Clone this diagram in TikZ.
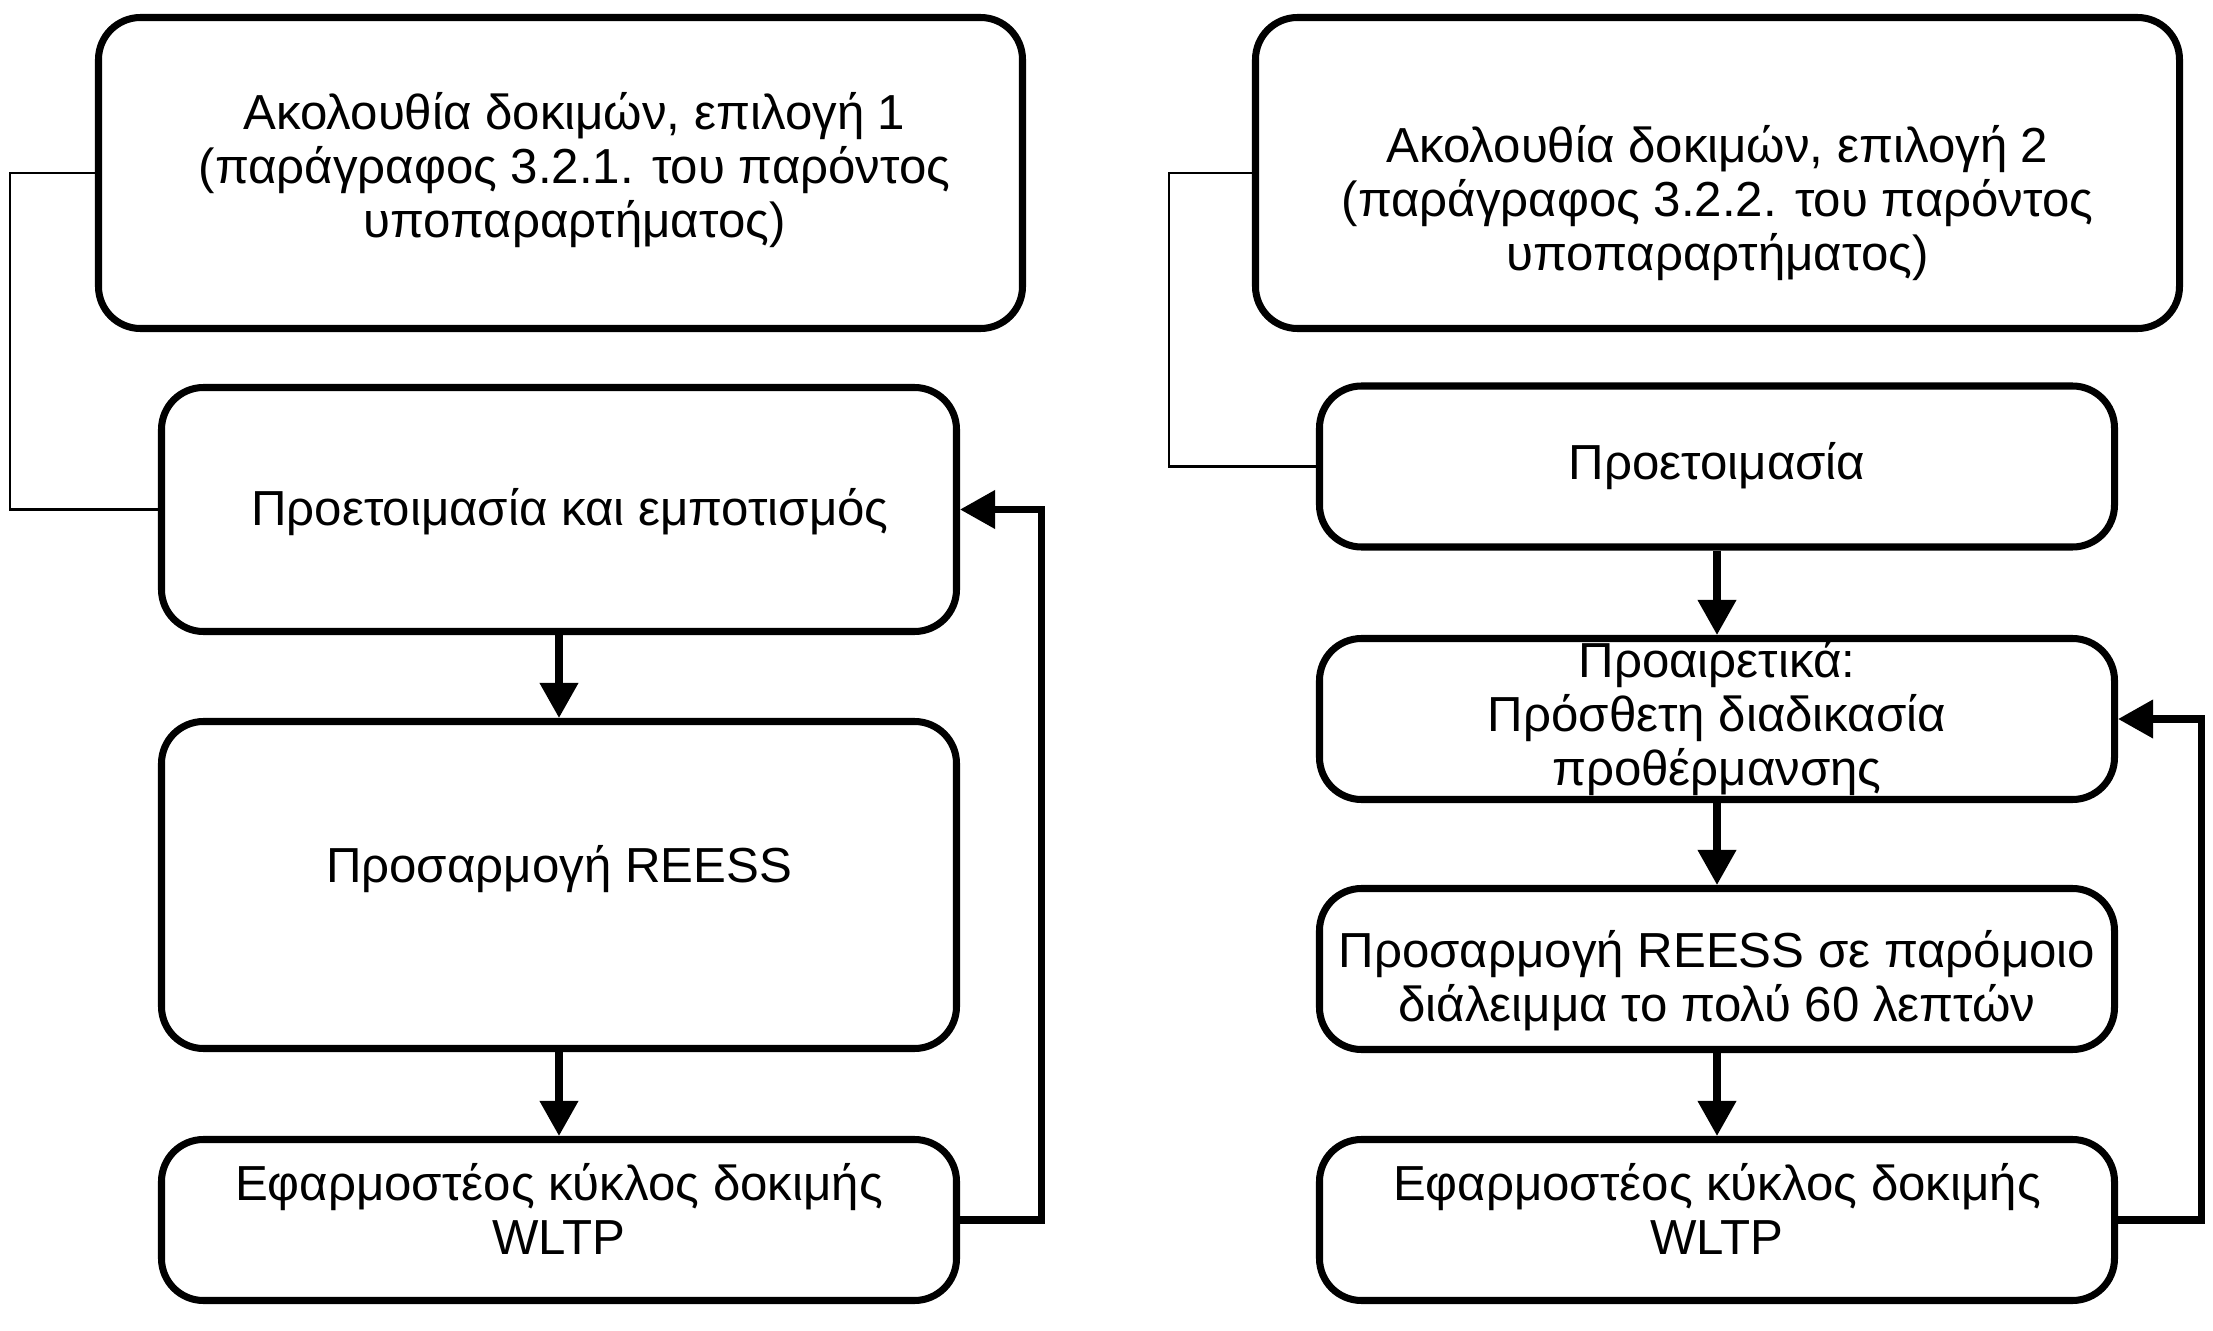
\documentclass[tikz,border=0pt]{standalone}
\usepackage{fontspec}
\setmainfont{Liberation Sans}
\usetikzlibrary{math}
\usetikzlibrary{arrows.meta}

\begin{document}
\begin{tikzpicture}[
	box/.style={draw, line width=2pt, rounded corners=0.42cm, inner sep=0pt},
	txt/.style={align=center, inner sep=0pt, font=\fontsize{14}{15.4}\selectfont},
	flow/.style={line width=2pt, -{Triangle[length=0.35cm, width=0.37cm]}},
	link/.style={line width=0.6pt},
]
	% Constants
	\tikzmath{
		\colA = 5.59; \colB = 17.17;
		\widebox = 9.24; \narrowbox = 7.95;
		\tallbox = 3.11; \flatbox = 1.61;
	}
	\useasboundingbox (0, 0) rectangle (22.13, -13.31);

	% Option 1
	\node[box, minimum width=\widebox cm, minimum height=\tallbox cm] (opt1) at (\colA + 0.015, -1.73) {};
	\node[txt] (opt1text) at ([xshift=0.14cm, yshift=0.03cm]opt1.center)
		{Ακολουθία δοκιμών, επιλογή 1\\(παράγραφος 3.2.1. του παρόντος\\υποπαραρτήματος)};
	\node[box, minimum width=\narrowbox cm, minimum height=2.44cm] (prep1) at (\colA, -5.095) {};
	\node[txt] (prep1text) at ([xshift=0.11cm, yshift=-0.03cm]prep1.center) {Προετοιμασία και εμποτισμός};
	\node[box, minimum width=\narrowbox cm, minimum height=3.27cm] (adapt1) at (\colA, -8.85) {};
	\node[txt] (adapt1text) at ([yshift=0.16cm]adapt1.center) {Προσαρμογή REESS};
	\node[box, minimum width=\narrowbox cm, minimum height=\flatbox cm] (cycle1) at (\colA, -12.20) {};
	\node[txt] (cycle1text) at ([yshift=0.11cm]cycle1.center) {Εφαρμοστέος κύκλος δοκιμής\\WLTP};

	% Option 2
	\node[box, minimum width=\widebox cm, minimum height=\tallbox cm] (opt2) at (\colB + 0.005, -1.73) {};
	\node[txt] (opt2text) at ([yshift=-0.30cm]opt2.center)
		{Ακολουθία δοκιμών, επιλογή 2\\(παράγραφος 3.2.2. του παρόντος\\υποπαραρτήματος)};
	\node[box, minimum width=\narrowbox cm, minimum height=\flatbox cm] (prep2) at (\colB, -4.665) {};
	\node[txt] (prep2text) at (prep2.center) {Προετοιμασία};
	\node[box, minimum width=\narrowbox cm, minimum height=\flatbox cm] (heat2) at (\colB, -7.19) {};
	\node[txt] (heat2text) at ([yshift=0.01cm]heat2.center) {Προαιρετικά:\\Πρόσθετη διαδικασία\\προθέρμανσης};
	\node[box, minimum width=\narrowbox cm, minimum height=\flatbox cm] (adapt2) at (\colB, -9.69) {};
	\node[txt] (adapt2text) at ([yshift=-0.12cm]adapt2.center) {Προσαρμογή REESS σε παρόμοιο\\διάλειμμα το πολύ 60 λεπτών};
	\node[box, minimum width=\narrowbox cm, minimum height=\flatbox cm] (cycle2) at (\colB, -12.20) {};
	\node[txt] (cycle2text) at ([yshift=0.11cm]cycle2.center) {Εφαρμοστέος κύκλος δοκιμής\\WLTP};

	% Brackets from option box to its first step
	\draw[link] (opt1.west) -| (0.10, -3.4) |- (prep1.west);
	\draw[link] (opt2.west) -| (11.69, -3.4) |- (prep2.west);

	% Sequence
	\draw[flow] (prep1) -- (adapt1);
	\draw[flow] (adapt1) -- (cycle1);
	\draw[flow] (prep2) -- (heat2);
	\draw[flow] (heat2) -- (adapt2);
	\draw[flow] (adapt2) -- (cycle2);

	% Repeat
	\draw[flow] (cycle1.east) -- ++(0.81, 0) |- (prep1.east);
	\draw[flow] (cycle2.east) -- ++(0.83, 0) |- (heat2.east);
\end{tikzpicture}
\end{document}
